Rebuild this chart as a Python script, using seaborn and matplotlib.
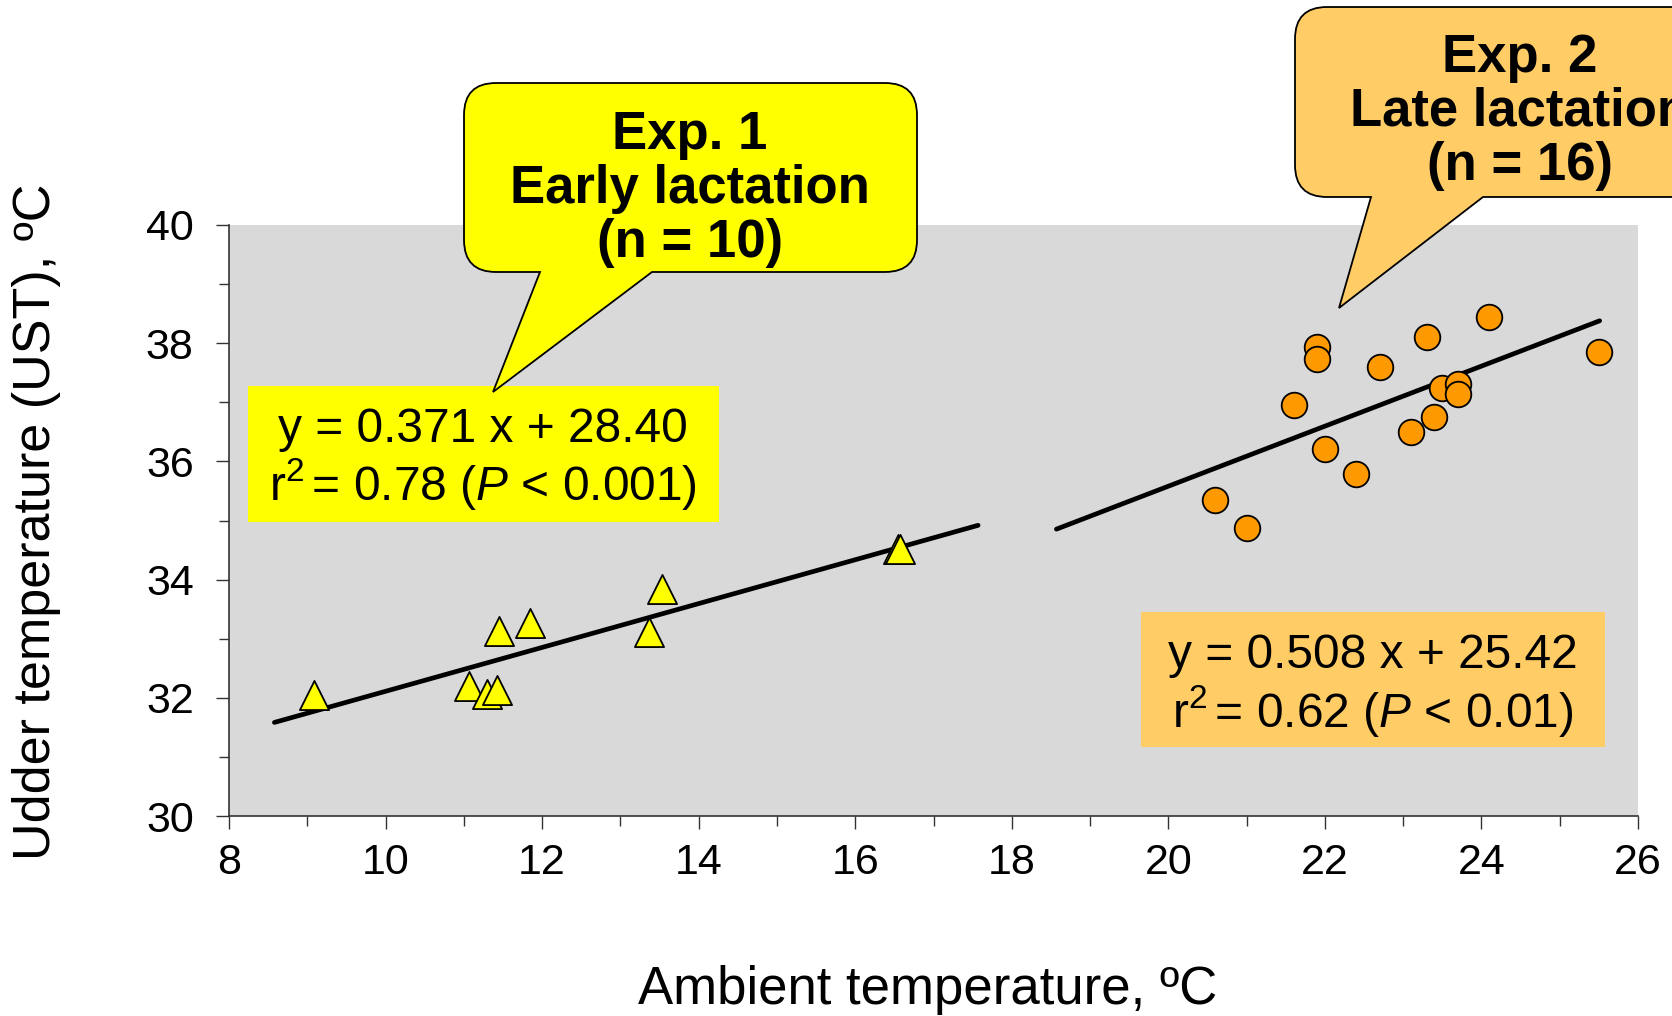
import numpy as np
import pandas as pd
import matplotlib
matplotlib.use("Agg")
import matplotlib.pyplot as plt
import matplotlib.transforms as mtransforms
from matplotlib.path import Path
from matplotlib.patches import PathPatch, Rectangle
from matplotlib.ticker import MultipleLocator
import seaborn as sns

# ---------------- data ----------------
exp1_x = [9.08, 11.07, 11.30, 11.42, 11.45, 11.85, 13.37, 13.53, 16.55, 16.57]
exp1_y = [32.04, 32.20, 32.06, 32.14, 33.13, 33.27, 33.11, 33.84, 34.52, 34.51]

exp2_x = [20.6, 21.0, 21.6, 21.9, 21.9, 22.0, 22.4, 22.7, 23.1, 23.3,
          23.4, 23.5, 23.7, 23.7, 24.1, 25.5]
exp2_y = [35.34, 34.88, 36.95, 37.94, 37.73, 36.21, 35.79, 37.59, 36.50, 38.11,
          36.75, 37.25, 37.31, 37.14, 38.44, 37.85]

fit1_coef = [0.371, 28.40]      # slope, intercept
fit1_range = [8.58, 17.57]
fit2_coef = [0.508, 25.42]
fit2_range = [18.57, 25.51]

x_ticks = [8, 10, 12, 14, 16, 18, 20, 22, 24, 26]
y_ticks = [30, 32, 34, 36, 38, 40]

eq1_lines = ["y = 0.371 x + 28.40", r"r$^{2}\,$= 0.78 ($\mathit{P}$ < 0.001)"]
eq2_lines = ["y = 0.508 x + 25.42", r"r$^{2}\,$= 0.62 ($\mathit{P}$ < 0.01)"]
call1_lines = ["Exp. 1", "Early lactation", "(n = 10)"]
call2_lines = ["Exp. 2", "Late lactation", "(n = 16)"]

xlabel = "Ambient temperature, ºC"
ylabel = "Udder temperature (UST), ºC"

# ---------------- style ----------------
sns.set_style("ticks")
FONT = "Liberation Sans"
plt.rcParams["font.family"] = [FONT, "DejaVu Sans"]
plt.rcParams["mathtext.fontset"] = "custom"
plt.rcParams["mathtext.rm"] = FONT
plt.rcParams["mathtext.it"] = FONT + ":italic"
plt.rcParams["mathtext.bf"] = FONT + ":bold"
plt.rcParams["text.color"] = "black"
plt.rcParams["axes.labelcolor"] = "black"
plt.rcParams["xtick.color"] = "black"
plt.rcParams["ytick.color"] = "black"

W, H = 1672, 1016
fig = plt.figure(figsize=(W / 100, H / 100), dpi=100)
fig.patch.set_facecolor("white")

ax_l, ax_r, ax_t, ax_b = 229, 1638, 225, 816
ax = fig.add_axes([ax_l / W, 1 - ax_b / H, (ax_r - ax_l) / W, (ax_b - ax_t) / H])
ax.set_facecolor("#D9D9D9")

px = mtransforms.Affine2D().scale(1 / W, -1 / H).translate(0, 1) + fig.transFigure

df1 = pd.DataFrame({"x": exp1_x, "y": exp1_y})
df2 = pd.DataFrame({"x": exp2_x, "y": exp2_y})

# regression lines (from the published fit equations)
for coef, rng in [(fit1_coef, fit1_range), (fit2_coef, fit2_range)]:
    lx = np.array(rng)
    ly = coef[0] * lx + coef[1]
    sns.lineplot(x=lx, y=ly, ax=ax, color="black", linewidth=3.4,
                 solid_capstyle="round", zorder=2)

sns.scatterplot(data=df1, x="x", y="y", ax=ax, marker="^", s=440,
                color="#FFFF00", edgecolor="black", linewidth=1.3, zorder=3)
sns.scatterplot(data=df2, x="x", y="y", ax=ax, marker="o", s=340,
                color="#FF9900", edgecolor="black", linewidth=1.3, zorder=3)

ax.set_xlim(8, 26)
ax.set_ylim(30, 40)
ax.set_xticks(x_ticks)
ax.set_yticks(y_ticks)
ax.xaxis.set_minor_locator(MultipleLocator(1))
ax.yaxis.set_minor_locator(MultipleLocator(1))
ax.tick_params(axis="both", which="major", length=9.4, width=1.0, color="#333333",
               labelsize=31, labelcolor="black", direction="out")
ax.tick_params(axis="both", which="minor", length=7.0, width=1.0, color="#333333",
               direction="out")
ax.tick_params(axis="x", which="major", pad=10)
ax.tick_params(axis="y", which="major", pad=16)
for s in ["top", "right"]:
    ax.spines[s].set_visible(False)
for s in ["left", "bottom"]:
    ax.spines[s].set_color("#333333")
    ax.spines[s].set_linewidth(1.2)

ax.set_xlabel(xlabel, fontsize=38, color="black")
ax.set_ylabel(ylabel, fontsize=37.5, color="black")
ax.xaxis.label.set_verticalalignment("center")
ax.yaxis.label.set_verticalalignment("center")
ax.xaxis.set_label_coords((928 - ax_l) / (ax_r - ax_l), (ax_b - 990) / (ax_b - ax_t))
ax.yaxis.set_label_coords((37 - ax_l) / (ax_r - ax_l), (ax_b - 522) / (ax_b - ax_t))

# ---------------- equation boxes ----------------
def eq_box(x0, y0, x1, y1, color, lines, cx, baselines):
    fig.add_artist(Rectangle((x0, y0), x1 - x0, y1 - y0, transform=px,
                             facecolor=color, edgecolor="none", zorder=5))
    for s, b in zip(lines, baselines):
        fig.text(cx, b, s, transform=px, ha="center", va="baseline",
                 fontsize=34.5, color="black", zorder=6)

eq_box(248, 386, 719, 522, "#FFFF00", eq1_lines, 483, [442, 500])
eq_box(1141, 612, 1605, 747, "#FFCC66", eq2_lines, 1373, [668, 727])

# ---------------- callouts ----------------
def callout(x0, y0, x1, y1, r, pb1, pb2, tip, color, lines, cx, baselines):
    verts = [(x0 + r, y0), (x1 - r, y0), (x1, y0), (x1, y0 + r),
             (x1, y1 - r), (x1, y1), (x1 - r, y1),
             (pb2, y1), tip, (pb1, y1),
             (x0 + r, y1), (x0, y1), (x0, y1 - r),
             (x0, y0 + r), (x0, y0), (x0 + r, y0), (x0 + r, y0)]
    codes = [Path.MOVETO, Path.LINETO, Path.CURVE3, Path.CURVE3,
             Path.LINETO, Path.CURVE3, Path.CURVE3,
             Path.LINETO, Path.LINETO, Path.LINETO,
             Path.LINETO, Path.CURVE3, Path.CURVE3,
             Path.LINETO, Path.CURVE3, Path.CURVE3, Path.CLOSEPOLY]
    fig.add_artist(PathPatch(Path(verts, codes), transform=px, facecolor=color,
                             edgecolor="black", linewidth=1.3, zorder=7,
                             joinstyle="miter"))
    for s, b in zip(lines, baselines):
        fig.text(cx, b, s, transform=px, ha="center", va="baseline",
                 fontsize=38, fontweight="bold", color="black", zorder=8)

callout(464, 83, 917, 272, 32, 540, 652, (493, 392), "#FFFF00",
        call1_lines, 690, [149, 203, 257])
callout(1295, 7, 1760, 197, 32, 1371, 1483, (1339, 308), "#FFCC66",
        call2_lines, 1520, [72, 126, 180])

fig.savefig("out.png", dpi=100, facecolor="white")
